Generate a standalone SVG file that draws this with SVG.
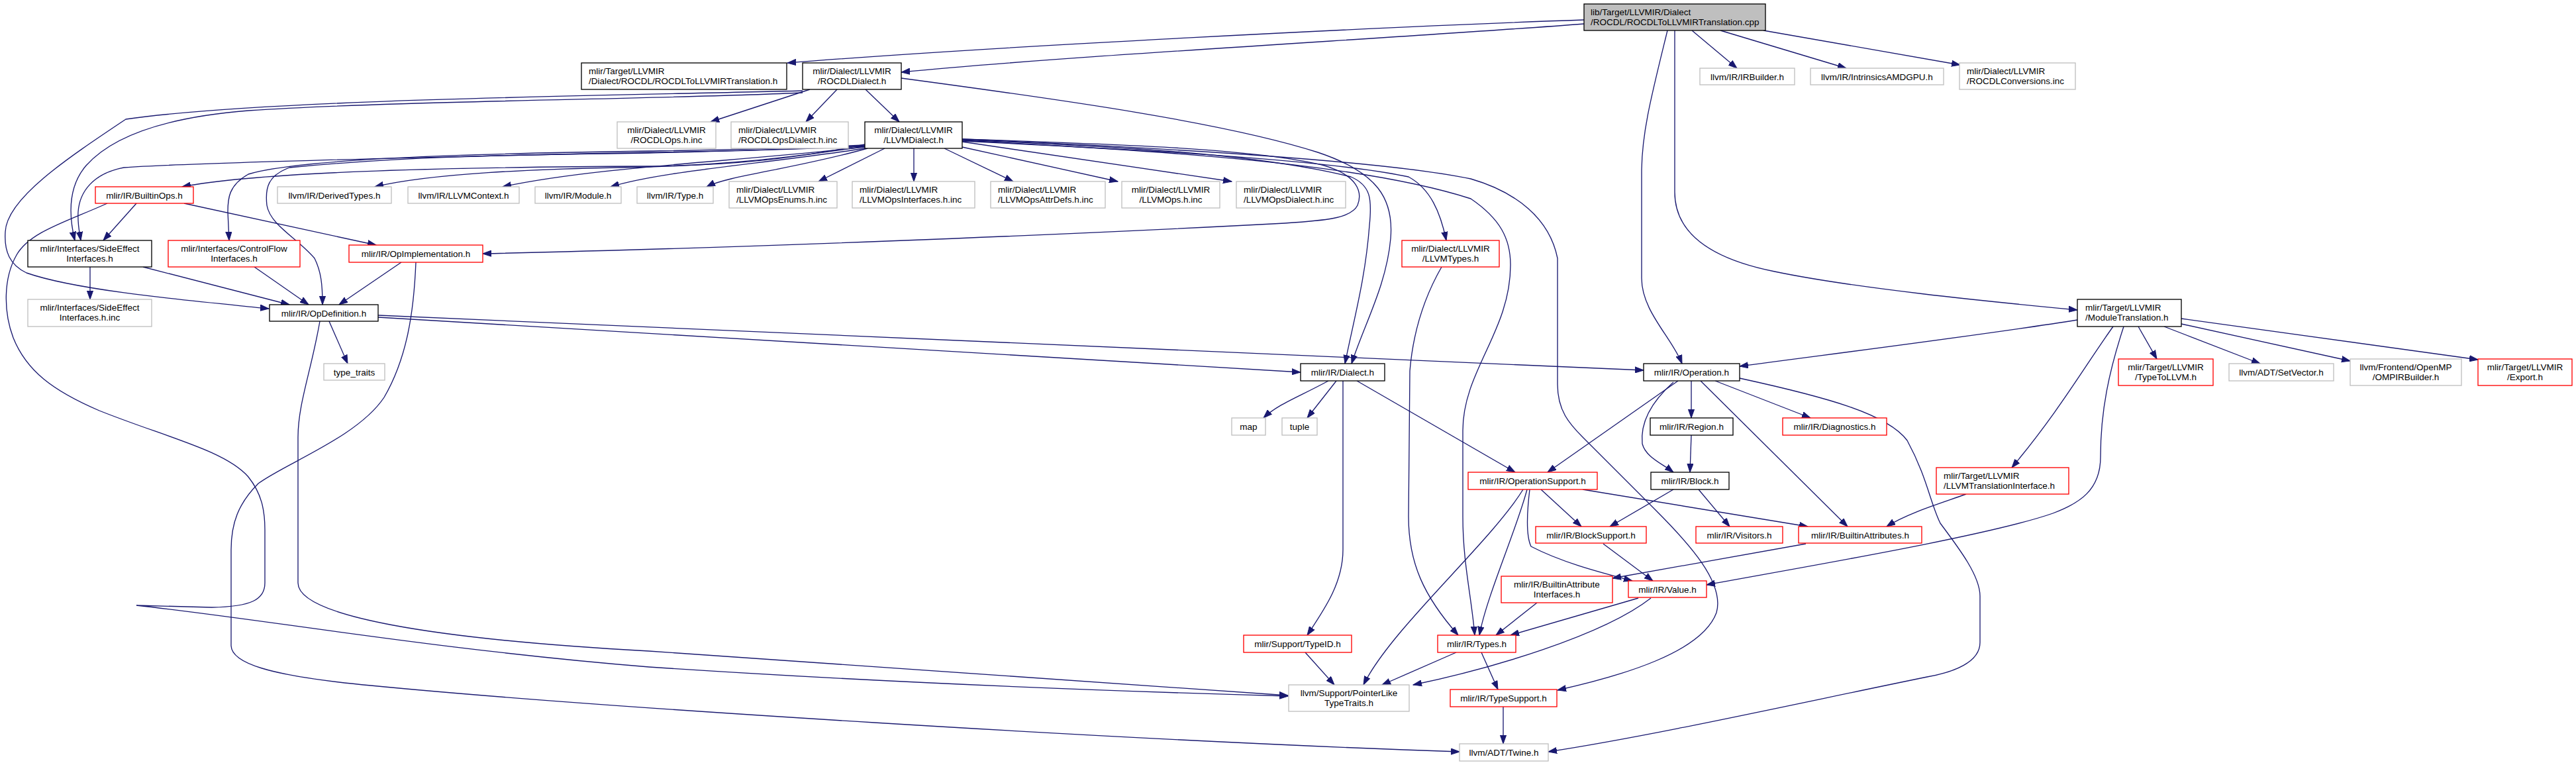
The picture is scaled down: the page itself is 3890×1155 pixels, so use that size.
<svg xmlns="http://www.w3.org/2000/svg" width="3890" height="1155" viewBox="0 0 3890 1155">
<style>
.node rect{stroke-width:1.33}
.b rect{fill:#fff;stroke:#000}
.g rect{fill:#fff;stroke:#bfbfbf}
.r rect{fill:#fff;stroke:#f00}
.m rect{fill:#bfbfbf;stroke:#000}
text{font-family:"Liberation Sans",Arial,sans-serif;font-size:13.5px;fill:#000;text-anchor:middle}
text.l{text-anchor:start}
#edges path{fill:none;stroke:#191970;stroke-width:1.33;marker-end:url(#a)}
</style>
<defs>
<marker id="a" markerWidth="14" markerHeight="10" refX="13" refY="5" orient="auto" markerUnits="userSpaceOnUse">
<path d="M0,0.4 L13,5 L0,9.6 z" fill="#191970" stroke="#191970" stroke-width="1"/>
</marker>
</defs>
<rect width="3890" height="1155" fill="#fff"/>
<g id="edges">
<path d="M2392,30 C2100,40 1500,70 1189,95"/>
<path d="M2392,36 C2150,55 1600,85 1361,109"/>
<path d="M2555,46 L2623,103"/>
<path d="M2598,46 L2788,103"/>
<path d="M2663,46 L2960,98"/>
<path d="M2518,46 C2495,140 2479,200 2479,260 L2479,420 C2479,470 2525,510 2540,549"/>
<path d="M2529,46 L2529,290 C2529,350 2580,390 2680,410 C2800,435 3000,455 3137,468"/>
<path d="M1223,135 L1073,184"/>
<path d="M1264,135 L1217,184"/>
<path d="M1307,135 L1358,184"/>
<path d="M1361,118 C1600,150 1850,185 1990,230 C2080,260 2105,300 2100,360 C2094,430 2060,490 2041,549"/>
<path d="M1212,140 C1000,150 600,152 375,167 C250,177 170,205 130,250 C100,285 105,330 113,363"/>
<path d="M1212,137 C900,145 400,150 190,180 C100,240 10,300 8,350 C6,380 15,400 40,412 C120,440 300,455 406,466"/>
<path d="M162,307 C100,335 45,350 25,385 C5,420 5,470 20,510 C40,560 80,590 150,620 C250,660 340,680 375,720 C395,745 400,770 400,800 L400,880 C400,905 380,916 320,917 L206,914 C400,935 650,980 980,1007 C1400,1035 1800,1047 1945,1051"/>
<path d="M1306,218 C1200,240 1100,250 980,251 C700,252 400,258 275,282"/>
<path d="M1306,221 C1150,245 1050,250 980,252 C800,255 650,262 566,282"/>
<path d="M1306,222 C1100,245 900,252 759,282"/>
<path d="M1306,224 C1150,248 1000,258 922,282"/>
<path d="M1310,224 C1200,255 1100,265 1067,282"/>
<path d="M1336,224 L1236,274"/>
<path d="M1380,224 L1380,274"/>
<path d="M1426,224 L1530,274"/>
<path d="M1453,222 L1688,274"/>
<path d="M1453,214 L1860,274"/>
<path d="M1306,220 C1150,228 1050,229 980,230 C700,236 300,245 187,253 C140,262 120,290 118,320 C117,340 120,350 122,363"/>
<path d="M1306,219 C1150,226 1050,227 980,228 C700,232 450,240 375,263 C345,280 344,300 344,320 L346,363"/>
<path d="M1306,221 C1150,228 1050,229 980,231 C750,234 600,237 437,253 C405,265 400,283 403,310 C408,340 450,360 475,390 C485,410 487,430 487,460"/>
<path d="M1453,210 C1700,218 1900,225 2000,250 C2050,265 2058,290 2050,310 C2040,330 2000,333 1940,337 C1600,355 1100,375 729,383"/>
<path d="M1453,211 C1700,222 1900,232 2040,267 C2070,280 2072,300 2068,340 C2062,420 2045,480 2031,549"/>
<path d="M1453,213 C1700,225 2000,240 2127,267 C2160,285 2175,320 2184,363"/>
<path d="M1453,212 C1750,228 2050,245 2221,300 C2265,330 2281,360 2281,400 C2281,500 2209,560 2209,650 L2209,780 C2209,850 2222,900 2227,959"/>
<path d="M1453,210 C1800,225 2100,245 2221,270 C2290,290 2340,330 2352,390 L2352,580 C2352,620 2370,640 2390,660 C2430,700 2470,740 2500,770 C2550,820 2605,880 2592,925 C2570,985 2450,1020 2352,1042"/>
<path d="M2177,403 C2150,450 2134,500 2129,560 L2127,780 C2127,850 2150,900 2202,959"/>
<path d="M571,476 L2482,559"/>
<path d="M571,479 L1964,562"/>
<path d="M497,485 L525,549"/>
<path d="M483,485 C470,560 450,610 450,660 L450,880 C450,930 650,965 980,983 C1400,1010 1800,1040 1945,1050"/>
<path d="M606,396 L512,460"/>
<path d="M628,396 C625,470 615,540 580,600 C540,660 430,700 390,730 C360,760 349,790 349,830 L349,975 C350,1000 400,1020 560,1035 C900,1068 1700,1118 2204,1135"/>
<path d="M136,403 L136,452"/>
<path d="M216,403 L437,460"/>
<path d="M384,403 L466,460"/>
<path d="M278,307 L568,370"/>
<path d="M206,307 L156,363"/>
<path d="M2006,575 C1960,600 1930,610 1908,631"/>
<path d="M2018,575 L1974,631"/>
<path d="M2049,575 L2288,713"/>
<path d="M2028,575 L2028,830 C2028,880 2000,920 1974,959"/>
<path d="M2534,575 L2337,713"/>
<path d="M2554,575 L2554,631"/>
<path d="M2590,575 L2734,631"/>
<path d="M2527,577 C2490,610 2477,640 2480,670 C2485,690 2510,700 2527,713"/>
<path d="M2568,575 L2790,795"/>
<path d="M2627,571 C2760,600 2850,625 2880,665 C2910,720 2915,760 2930,790 C2960,830 2990,870 2990,900 L2990,970 C2990,1000 2950,1015 2910,1022 C2700,1065 2500,1110 2338,1135"/>
<path d="M2554,657 L2552,713"/>
<path d="M2327,739 L2388,795"/>
<path d="M2390,739 L2730,795"/>
<path d="M2310,739 C2305,780 2305,810 2312,825 C2360,850 2420,865 2465,877"/>
<path d="M2306,739 C2290,800 2245,900 2234,959"/>
<path d="M2300,739 C2250,820 2100,950 2059,1034"/>
<path d="M2527,739 L2431,795"/>
<path d="M2565,739 L2612,795"/>
<path d="M2727,821 L2435,873"/>
<path d="M2969,746 C2930,760 2880,775 2849,795"/>
<path d="M2421,821 L2496,877"/>
<path d="M2321,910 L2259,959"/>
<path d="M2474,903 L2281,959"/>
<path d="M2493,903 C2420,960 2250,1010 2134,1034"/>
<path d="M1971,985 L2015,1034"/>
<path d="M2199,985 L2087,1034"/>
<path d="M2237,985 L2262,1041"/>
<path d="M2270,1067 L2270,1123"/>
<path d="M3137,483 C3000,505 2800,530 2627,553"/>
<path d="M3229,493 L3257,542"/>
<path d="M3268,493 L3413,549"/>
<path d="M3294,489 L3549,545"/>
<path d="M3294,481 L3742,543"/>
<path d="M3191,493 C3150,550 3110,620 3038,706"/>
<path d="M3207,493 C3185,560 3172,620 3172,690 C3172,740 3140,760 3100,775 C3000,810 2700,860 2577,883"/>
</g>
<g id="n1" class="node m"><rect x="2392" y="6" width="274" height="40"/><text class="l" x="2402" y="23">lib/Target/LLVMIR/Dialect</text><text class="l" x="2402" y="38">/ROCDL/ROCDLToLLVMIRTranslation.cpp</text></g>
<g id="n2" class="node b"><rect x="878" y="95" width="310" height="40"/><text class="l" x="889" y="112">mlir/Target/LLVMIR</text><text class="l" x="889" y="127">/Dialect/ROCDL/ROCDLToLLVMIRTranslation.h</text></g>
<g id="n3" class="node b"><rect x="1212" y="95" width="149" height="40"/><text x="1286.5" y="112">mlir/Dialect/LLVMIR</text><text x="1286.5" y="127">/ROCDLDialect.h</text></g>
<g id="n4" class="node g"><rect x="2567" y="103" width="143" height="25"/><text x="2638.5" y="120.5">llvm/IR/IRBuilder.h</text></g>
<g id="n5" class="node g"><rect x="2734" y="103" width="201" height="25"/><text x="2834.5" y="120.5">llvm/IR/IntrinsicsAMDGPU.h</text></g>
<g id="n6" class="node g"><rect x="2959" y="95" width="175" height="40"/><text class="l" x="2970" y="112">mlir/Dialect/LLVMIR</text><text class="l" x="2970" y="127">/ROCDLConversions.inc</text></g>
<g id="n7" class="node g"><rect x="932" y="184" width="149" height="40"/><text x="1006.5" y="201">mlir/Dialect/LLVMIR</text><text x="1006.5" y="216">/ROCDLOps.h.inc</text></g>
<g id="n8" class="node g"><rect x="1104" y="184" width="177" height="40"/><text class="l" x="1115" y="201">mlir/Dialect/LLVMIR</text><text class="l" x="1115" y="216">/ROCDLOpsDialect.h.inc</text></g>
<g id="n9" class="node b"><rect x="1306" y="184" width="147" height="40"/><text x="1379.5" y="201">mlir/Dialect/LLVMIR</text><text x="1379.5" y="216">/LLVMDialect.h</text></g>
<g id="n10" class="node r"><rect x="144" y="282" width="148" height="25"/><text x="218" y="299.5">mlir/IR/BuiltinOps.h</text></g>
<g id="n11" class="node g"><rect x="419" y="282" width="172" height="25"/><text x="505" y="299.5">llvm/IR/DerivedTypes.h</text></g>
<g id="n12" class="node g"><rect x="616" y="282" width="168" height="25"/><text x="700" y="299.5">llvm/IR/LLVMContext.h</text></g>
<g id="n13" class="node g"><rect x="808" y="282" width="130" height="25"/><text x="873" y="299.5">llvm/IR/Module.h</text></g>
<g id="n14" class="node g"><rect x="962" y="282" width="115" height="25"/><text x="1019.5" y="299.5">llvm/IR/Type.h</text></g>
<g id="n15" class="node g"><rect x="1101" y="274" width="163" height="40"/><text class="l" x="1112" y="291">mlir/Dialect/LLVMIR</text><text class="l" x="1112" y="306">/LLVMOpsEnums.h.inc</text></g>
<g id="n16" class="node g"><rect x="1287" y="274" width="185" height="40"/><text class="l" x="1298" y="291">mlir/Dialect/LLVMIR</text><text class="l" x="1298" y="306">/LLVMOpsInterfaces.h.inc</text></g>
<g id="n17" class="node g"><rect x="1496" y="274" width="173" height="40"/><text class="l" x="1507" y="291">mlir/Dialect/LLVMIR</text><text class="l" x="1507" y="306">/LLVMOpsAttrDefs.h.inc</text></g>
<g id="n18" class="node g"><rect x="1694" y="274" width="148" height="40"/><text x="1768" y="291">mlir/Dialect/LLVMIR</text><text x="1768" y="306">/LLVMOps.h.inc</text></g>
<g id="n19" class="node g"><rect x="1867" y="274" width="165" height="40"/><text class="l" x="1878" y="291">mlir/Dialect/LLVMIR</text><text class="l" x="1878" y="306">/LLVMOpsDialect.h.inc</text></g>
<g id="n20" class="node b"><rect x="42" y="363" width="187" height="40"/><text x="135.5" y="380">mlir/Interfaces/SideEffect</text><text x="135.5" y="395">Interfaces.h</text></g>
<g id="n21" class="node r"><rect x="254" y="363" width="199" height="40"/><text x="353.5" y="380">mlir/Interfaces/ControlFlow</text><text x="353.5" y="395">Interfaces.h</text></g>
<g id="n22" class="node r"><rect x="527" y="370" width="202" height="26"/><text x="628" y="388">mlir/IR/OpImplementation.h</text></g>
<g id="n23" class="node r"><rect x="2117" y="363" width="147" height="40"/><text x="2190.5" y="380">mlir/Dialect/LLVMIR</text><text x="2190.5" y="395">/LLVMTypes.h</text></g>
<g id="n24" class="node g"><rect x="42" y="452" width="187" height="41"/><text x="135.5" y="469">mlir/Interfaces/SideEffect</text><text x="135.5" y="484">Interfaces.h.inc</text></g>
<g id="n25" class="node b"><rect x="407" y="460" width="164" height="25"/><text x="489" y="477.5">mlir/IR/OpDefinition.h</text></g>
<g id="n26" class="node g"><rect x="489" y="549" width="92" height="25"/><text x="535" y="566.5">type_traits</text></g>
<g id="n27" class="node b"><rect x="1964" y="549" width="127" height="26"/><text x="2027.5" y="567">mlir/IR/Dialect.h</text></g>
<g id="n28" class="node b"><rect x="2482" y="549" width="145" height="26"/><text x="2554.5" y="567">mlir/IR/Operation.h</text></g>
<g id="n29" class="node g"><rect x="1860" y="631" width="51" height="26"/><text x="1885.5" y="649">map</text></g>
<g id="n30" class="node g"><rect x="1936" y="631" width="53" height="26"/><text x="1962.5" y="649">tuple</text></g>
<g id="n31" class="node b"><rect x="2492" y="631" width="125" height="26"/><text x="2554.5" y="649">mlir/IR/Region.h</text></g>
<g id="n32" class="node r"><rect x="2692" y="631" width="157" height="26"/><text x="2770.5" y="649">mlir/IR/Diagnostics.h</text></g>
<g id="n33" class="node r"><rect x="2217" y="713" width="195" height="26"/><text x="2314.5" y="731">mlir/IR/OperationSupport.h</text></g>
<g id="n34" class="node b"><rect x="2493" y="713" width="118" height="26"/><text x="2552" y="731">mlir/IR/Block.h</text></g>
<g id="n35" class="node b"><rect x="3137" y="452" width="157" height="41"/><text class="l" x="3149" y="469">mlir/Target/LLVMIR</text><text class="l" x="3149" y="484">/ModuleTranslation.h</text></g>
<g id="n36" class="node r"><rect x="3199" y="542" width="143" height="40"/><text x="3270.5" y="559">mlir/Target/LLVMIR</text><text x="3270.5" y="574">/TypeToLLVM.h</text></g>
<g id="n37" class="node g"><rect x="3366" y="549" width="158" height="26"/><text x="3445" y="567">llvm/ADT/SetVector.h</text></g>
<g id="n38" class="node g"><rect x="3549" y="542" width="168" height="40"/><text x="3633" y="559">llvm/Frontend/OpenMP</text><text x="3633" y="574">/OMPIRBuilder.h</text></g>
<g id="n39" class="node r"><rect x="3742" y="542" width="142" height="40"/><text x="3813" y="559">mlir/Target/LLVMIR</text><text x="3813" y="574">/Export.h</text></g>
<g id="n40" class="node r"><rect x="2924" y="706" width="200" height="40"/><text class="l" x="2935" y="723">mlir/Target/LLVMIR</text><text class="l" x="2935" y="738">/LLVMTranslationInterface.h</text></g>
<g id="n41" class="node r"><rect x="2319" y="795" width="167" height="25"/><text x="2402.5" y="812.5">mlir/IR/BlockSupport.h</text></g>
<g id="n42" class="node r"><rect x="2561" y="795" width="131" height="25"/><text x="2626.5" y="812.5">mlir/IR/Visitors.h</text></g>
<g id="n43" class="node r"><rect x="2716" y="795" width="186" height="25"/><text x="2809" y="812.5">mlir/IR/BuiltinAttributes.h</text></g>
<g id="n44" class="node r"><rect x="2267" y="870" width="168" height="40"/><text x="2351" y="887">mlir/IR/BuiltinAttribute</text><text x="2351" y="902">Interfaces.h</text></g>
<g id="n45" class="node r"><rect x="2459" y="877" width="118" height="25"/><text x="2518" y="894.5">mlir/IR/Value.h</text></g>
<g id="n46" class="node r"><rect x="1878" y="959" width="163" height="26"/><text x="1959.5" y="977">mlir/Support/TypeID.h</text></g>
<g id="n47" class="node r"><rect x="2171" y="959" width="118" height="26"/><text x="2230" y="977">mlir/IR/Types.h</text></g>
<g id="n48" class="node g"><rect x="1946" y="1034" width="182" height="40"/><text x="2037" y="1051">llvm/Support/PointerLike</text><text x="2037" y="1066">TypeTraits.h</text></g>
<g id="n49" class="node r"><rect x="2190" y="1041" width="161" height="26"/><text x="2270.5" y="1059">mlir/IR/TypeSupport.h</text></g>
<g id="n50" class="node g"><rect x="2204" y="1123" width="134" height="26"/><text x="2271" y="1141">llvm/ADT/Twine.h</text></g>
</svg>
